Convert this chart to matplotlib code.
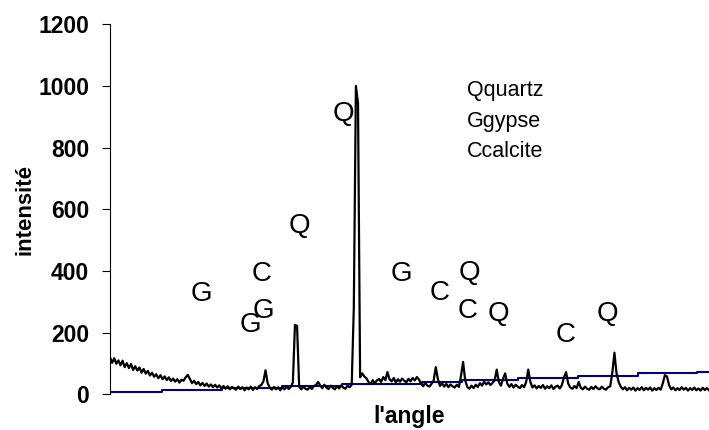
import numpy as np
import matplotlib
matplotlib.use("Agg")
import matplotlib.pyplot as plt

plt.rcParams['font.family'] = ['Liberation Sans', 'DejaVu Sans']

# Diffraction angle grid (2-theta, degrees) and measured intensity
angle_start = 3.0
angle_step = 0.2
intensity = [
    120, 102, 117, 99, 110, 94, 109, 88, 101, 85, 98, 79, 91, 77, 87, 70, 82, 67, 76, 61,
    70, 57, 65, 52, 62, 49, 58, 46, 55, 43, 51, 41, 49, 38, 47, 44, 55, 63, 50, 36,
    44, 33, 40, 29, 37, 27, 35, 25, 32, 23, 31, 22, 29, 19, 27, 18, 26, 16, 24, 19,
    15, 25, 17, 23, 13, 22, 16, 25, 14, 23, 17, 27, 30, 42, 78, 36, 22, 15, 24, 16,
    23, 13, 23, 16, 25, 17, 24, 38, 225, 222, 25, 16, 25, 18, 15, 24, 17, 27, 30, 40,
    29, 20, 31, 22, 17, 28, 21, 16, 27, 19, 29, 22, 18, 28, 23, 31, 280, 1000, 945, 55,
    68, 58, 52, 40, 33, 46, 36, 45, 50, 40, 56, 46, 72, 49, 42, 53, 38, 49, 41, 51,
    44, 39, 50, 42, 53, 45, 56, 48, 34, 26, 37, 28, 25, 34, 45, 88, 50, 27, 36, 25,
    34, 23, 32, 26, 22, 31, 24, 60, 105, 45, 24, 18, 28, 20, 31, 24, 36, 28, 41, 32,
    39, 30, 37, 45, 80, 40, 28, 50, 68, 35, 24, 33, 22, 31, 25, 20, 30, 23, 40, 80,
    40, 22, 29, 19, 27, 21, 30, 18, 26, 20, 29, 17, 25, 28, 19, 30, 55, 72, 35, 22,
    18, 27, 20, 40, 21, 16, 25, 18, 15, 24, 17, 26, 19, 16, 25, 18, 15, 23, 26, 70,
    135, 68, 40, 25, 16, 23, 13, 21, 15, 22, 12, 20, 14, 23, 13, 21, 15, 22, 12, 20,
    14, 21, 15, 35, 62, 58, 30, 16, 22, 13, 20, 14, 23, 15, 21, 12, 20, 14, 22, 13,
    19, 12, 21, 14, 20, 13,
]
angle = angle_start + angle_step * np.arange(len(intensity))

# Stepped background line
bg_edges = [3.0, 7.95, 13.66, 19.37, 25.07, 32.69, 36.49, 41.82, 47.53, 53.24, 58.85, 60.0]
bg_levels = [8, 14, 21, 27, 33, 41, 45, 52, 60, 68, 73, 73]

# Phase markers above the peaks
mark_labels = ['G', 'C', 'G', 'G', 'Q', 'Q', 'G', 'C', 'Q', 'C', 'Q', 'C', 'Q']
mark_x = [11.66, 17.46, 17.56, 16.32, 20.98, 25.26, 30.69, 34.40, 37.16, 37.06, 40.01, 46.39, 50.29]
mark_y = [303, 368, 248, 202, 523, 886, 368, 306, 371, 248, 238, 170, 238]

key_lines = ['Qquartz', 'Ggypse', 'Ccalcite']
key_x = 36.97
key_y = [968, 867, 770]

y_ticks = [0, 200, 400, 600, 800, 1000, 1200]

fig = plt.figure(figsize=(7.09, 4.30), dpi=100)
ax = fig.add_axes([110 / 709, 1 - 394.3 / 430, 599 / 709, 370 / 430])

ax.step(bg_edges, bg_levels, where='post', color='#000080', lw=1.5, zorder=2)
ax.plot(angle, intensity, color='black', lw=1.6, zorder=3)

ax.set_xlim(3.0, 60.0)
ax.set_ylim(0, 1200)
ax.set_xticks([])
ax.set_yticks(y_ticks)
ax.set_yticklabels([str(t) for t in y_ticks], fontsize=16.5, fontweight='bold')
ax.tick_params(axis='y', direction='out', length=6, width=0.8, pad=9)

for side in ('top', 'right', 'bottom'):
    ax.spines[side].set_visible(False)
ax.spines['left'].set_linewidth(0.8)

ax.set_ylabel('intensité', fontsize=16, fontweight='bold', labelpad=2)
ax.set_xlabel("l'angle", fontsize=16.5, fontweight='bold', labelpad=8)

for lab, x, y in zip(mark_labels, mark_x, mark_y):
    ax.text(x, y, lab, fontsize=20, ha='center', va='baseline', zorder=4)

for txt, y in zip(key_lines, key_y):
    ax.text(key_x, y, txt, fontsize=15.5, ha='left', va='baseline', zorder=4)

fig.savefig('out.png', dpi=100)
